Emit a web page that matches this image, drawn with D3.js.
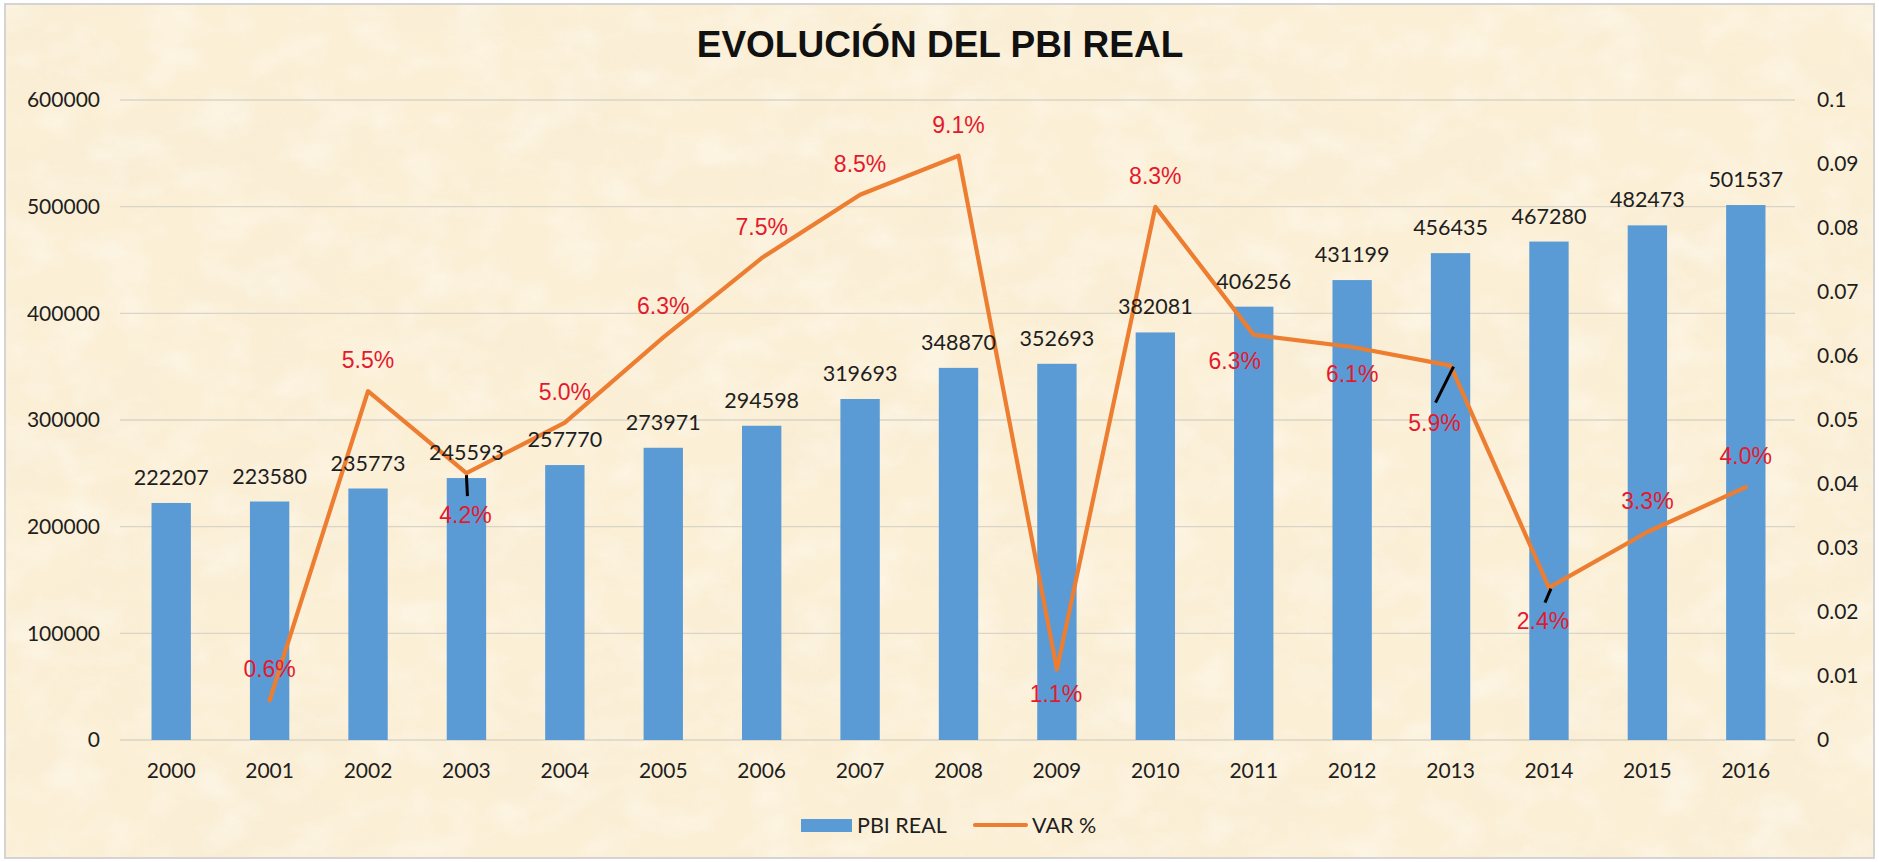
<!DOCTYPE html>
<html>
<head>
<meta charset="utf-8">
<script src="https://cdn.jsdelivr.net/npm/d3@7"></script>
<style>
html,body{margin:0;padding:0;background:#ffffff;}
svg{display:block;}
</style>
</head>
<body>
<svg id="chart" width="1879" height="862"></svg>
<script>
// ---------- DATA ----------
const chartTitle = "EVOLUCIÓN DEL PBI REAL";
const years = ["2000","2001","2002","2003","2004","2005","2006","2007","2008","2009","2010","2011","2012","2013","2014","2015","2016"];
const pbiReal = [222207,223580,235773,245593,257770,273971,294598,319693,348870,352693,382081,406256,431199,456435,467280,482473,501537];
const varPct = [null,0.0062,0.0545,0.0417,0.0496,0.0629,0.0753,0.0852,0.0913,0.0110,0.0833,0.0633,0.0614,0.0585,0.0238,0.0325,0.0395];
const leftTicks = [0,100000,200000,300000,400000,500000,600000];
const rightTicks = [0,0.01,0.02,0.03,0.04,0.05,0.06,0.07,0.08,0.09,0.1];
const seriesNames = ["PBI REAL","VAR %"];

// ---------- LABEL PLACEMENT (style, not data) ----------
const pctLabelOffset = { // [dx, baseline dy]
  "2003":[-1,50], "2009":[-1,32], "2011":[-19,34], "2012":[0,35], "2013":[-16,65], "2014":[-6,41]
};
const pctLeader = { // [x1,y1,x2,y2] relative to point
  "2003":[0,2,1,23], "2013":[3,1,-15,37], "2014":[2,1,-4,15]
};

// ---------- SETUP ----------
const W = 1879, H = 862;
const svg = d3.select("#chart");
const defs = svg.append("defs");

const COLORS = {bar:"#5B9BD5", line:"#ED7D31", pct:"#E5192D", text:"#1E1E1E", grid:"#D9D4C8"};

// parchment texture
const f1 = defs.append("filter").attr("id","paperDark").attr("x",0).attr("y",0).attr("width","100%").attr("height","100%");
f1.append("feTurbulence").attr("type","fractalNoise").attr("baseFrequency","0.006 0.010").attr("numOctaves",4).attr("seed",11).attr("result","n");
f1.append("feColorMatrix").attr("in","n").attr("type","matrix")
  .attr("values","0 0 0 0 0.93  0 0 0 0 0.84  0 0 0 0 0.66  1.8 0 0 0 -0.82");
const f2 = defs.append("filter").attr("id","paperLight").attr("x",0).attr("y",0).attr("width","100%").attr("height","100%");
f2.append("feTurbulence").attr("type","fractalNoise").attr("baseFrequency","0.02 0.03").attr("numOctaves",3).attr("seed",4).attr("result","n");
f2.append("feColorMatrix").attr("in","n").attr("type","matrix")
  .attr("values","0 0 0 0 1  0 0 0 0 0.98  0 0 0 0 0.93  1.6 0 0 0 -0.7");

svg.append("rect").attr("x",5).attr("y",4).attr("width",W-10).attr("height",H-8).attr("fill","#FBEFD6");
svg.append("rect").attr("x",5).attr("y",4).attr("width",W-10).attr("height",H-8).attr("filter","url(#paperDark)").attr("opacity",0.7);
svg.append("rect").attr("x",5).attr("y",4).attr("width",W-10).attr("height",H-8).attr("filter","url(#paperLight)").attr("opacity",0.6);
svg.append("rect").attr("x",5).attr("y",4).attr("width",W-10).attr("height",H-8)
  .attr("fill","none").attr("stroke","#D4D4D4").attr("stroke-width",2);

const M = {left:122, right:1795, top:100, bottom:740};

const x = d3.scaleBand().domain(years).range([M.left, M.right]).paddingInner(0.6).paddingOuter(0.3);
const cx = d => x(d) + x.bandwidth()/2;
const yL = d3.scaleLinear().domain([0,600000]).range([M.bottom, M.top]);
const yR = d3.scaleLinear().domain([0,0.1]).range([M.bottom, M.top]);

// title
svg.append("text").attr("x",940).attr("y",57).attr("text-anchor","middle")
  .style("font-family","'Liberation Sans', Arial, sans-serif").style("font-weight","bold")
  .style("font-size","37px").attr("fill","#111").text(chartTitle);

// gridlines
svg.append("g").selectAll("line").data(leftTicks).join("line")
  .attr("x1",M.left-2).attr("x2",M.right).attr("y1",d=>yL(d)).attr("y2",d=>yL(d))
  .attr("stroke",COLORS.grid).attr("stroke-width",1.4);

const tickFont = g => g.selectAll("text").style("font-family","Lato, 'Open Sans', sans-serif")
  .style("font-size","21px").attr("fill",COLORS.text);

// left axis
svg.append("g").attr("transform",`translate(100,0)`)
  .call(d3.axisLeft(yL).tickValues(leftTicks).tickSize(0).tickPadding(0).tickFormat(d3.format("d")))
  .call(g=>g.select(".domain").remove()).call(tickFont);

// right axis
svg.append("g").attr("transform",`translate(1817,0)`)
  .call(d3.axisRight(yR).tickValues(rightTicks).tickSize(0).tickPadding(0).tickFormat(d=>String(+d.toFixed(2))))
  .call(g=>g.select(".domain").remove()).call(tickFont);

// bottom axis
svg.append("g").attr("transform",`translate(0,${M.bottom})`)
  .call(d3.axisBottom(x).tickSize(0).tickPadding(23))
  .call(g=>g.select(".domain").remove()).call(tickFont);

// bars
svg.append("g").selectAll("rect").data(years).join("rect")
  .attr("x",d=>x(d)).attr("width",x.bandwidth())
  .attr("y",(d,i)=>yL(pbiReal[i])).attr("height",(d,i)=>yL(0)-yL(pbiReal[i]))
  .attr("fill",COLORS.bar);

// line
const lineData = years.map((d,i)=>({year:d, v:varPct[i]}));
svg.append("path").datum(lineData)
  .attr("d", d3.line().defined(d=>d.v!=null).x(d=>cx(d.year)).y(d=>yR(d.v)))
  .attr("fill","none").attr("stroke",COLORS.line).attr("stroke-width",4.2)
  .attr("stroke-linejoin","round").attr("stroke-linecap","round");

// leader lines
svg.append("g").selectAll("line").data(lineData.filter(d=>pctLeader[d.year])).join("line")
  .attr("x1",d=>cx(d.year)+pctLeader[d.year][0]).attr("y1",d=>yR(d.v)+pctLeader[d.year][1])
  .attr("x2",d=>cx(d.year)+pctLeader[d.year][2]).attr("y2",d=>yR(d.v)+pctLeader[d.year][3])
  .attr("stroke","#000").attr("stroke-width",3);

// bar labels
svg.append("g").selectAll("text").data(years).join("text")
  .attr("x",d=>cx(d)).attr("y",(d,i)=>yL(pbiReal[i])-18).attr("text-anchor","middle")
  .style("font-family","Lato, 'Open Sans', sans-serif").style("font-size","21.5px")
  .attr("fill",COLORS.text).text((d,i)=>pbiReal[i]);

// pct labels
svg.append("g").selectAll("text").data(lineData.filter(d=>d.v!=null)).join("text")
  .attr("x",d=>cx(d.year)+(pctLabelOffset[d.year]||[0,-23])[0])
  .attr("y",d=>yR(d.v)+(pctLabelOffset[d.year]||[0,-23])[1])
  .attr("text-anchor","middle")
  .style("font-family","'Liberation Sans', Arial, sans-serif").style("font-size","23px")
  .attr("fill",COLORS.pct).text(d=>d3.format(".1%")(d.v));

// legend
const lg = svg.append("g");
lg.append("rect").attr("x",801).attr("y",819).attr("width",51).attr("height",13).attr("fill",COLORS.bar);
lg.append("text").attr("x",857).attr("y",833)
  .style("font-family","Lato, 'Open Sans', sans-serif").style("font-size","21.5px").attr("fill",COLORS.text).text(seriesNames[0]);
lg.append("line").attr("x1",975).attr("x2",1026).attr("y1",825).attr("y2",825)
  .attr("stroke",COLORS.line).attr("stroke-width",4.2).attr("stroke-linecap","round");
lg.append("text").attr("x",1032).attr("y",833)
  .style("font-family","Lato, 'Open Sans', sans-serif").style("font-size","21.5px").attr("fill",COLORS.text).text(seriesNames[1]);
</script>
</body>
</html>
